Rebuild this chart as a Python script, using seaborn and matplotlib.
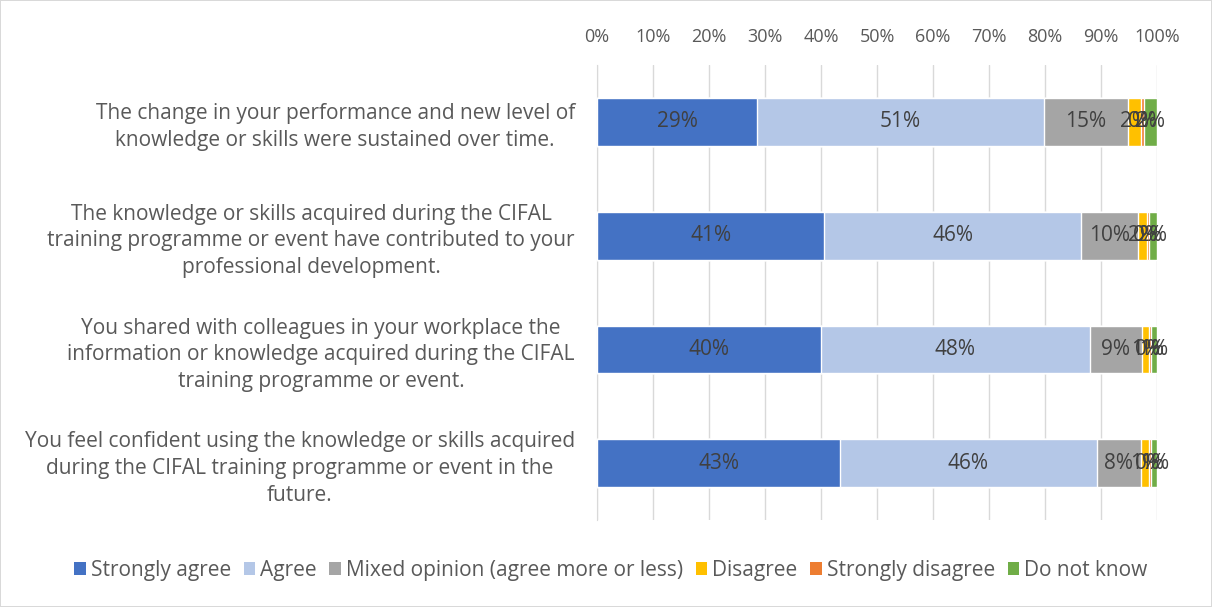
import matplotlib
matplotlib.use('Agg')
import matplotlib.pyplot as plt
import seaborn as sns
import numpy as np
import pandas as pd
from matplotlib.patches import Patch

statements = [
    'The change in your performance and new level of\nknowledge or skills were sustained over time.',
    'The knowledge or skills acquired during the CIFAL\ntraining programme or event have contributed to your\nprofessional development.',
    'You shared with colleagues in your workplace the\ninformation or knowledge acquired during the CIFAL\ntraining programme or event.',
    'You feel confident using the knowledge or skills acquired\nduring the CIFAL training programme or event in the\nfuture.',
]
responses = ['Strongly agree', 'Agree', 'Mixed opinion (agree more or less)',
             'Disagree', 'Strongly disagree', 'Do not know']
strongly_agree = [28.6, 40.6, 40.0, 43.4]
agree = [51.2, 45.8, 48.0, 45.8]
mixed = [15.0, 10.2, 9.3, 8.0]
disagree = [2.4, 1.6, 1.2, 1.3]
strongly_disagree = [0.4, 0.3, 0.4, 0.5]
do_not_know = [2.4, 1.5, 1.1, 1.0]
colors = ['#4472C4', '#B4C7E7', '#A5A5A5', '#FFC000', '#ED7D31', '#70AD47']

sns.set_style('white')
plt.rcParams['font.family'] = ['Open Sans', 'DejaVu Sans']

vals = np.array([strongly_agree, agree, mixed, disagree, strongly_disagree, do_not_know])
cum = np.cumsum(vals, axis=0)

fig = plt.figure(figsize=(12.12, 6.07), dpi=100, linewidth=1.2, edgecolor='#d9d9d9')
ax = fig.add_axes([0.4926, 0.143, 0.462, 0.750])

# stack by drawing cumulative totals from the longest down
for i in range(len(responses) - 1, -1, -1):
    df = pd.DataFrame({'statement': statements, 'value': cum[i]})
    sns.barplot(data=df, x='value', y='statement', orient='h', color=colors[i],
                saturation=1, width=0.42, ax=ax, zorder=3)

for i in range(len(responses)):
    for j in range(len(statements)):
        center = cum[i][j] - vals[i][j] / 2
        ax.text(center, j, f'{vals[i][j]:.0f}%', ha='center', va='center',
                fontsize=15, color='#404040', zorder=5)

ax.set_xlim(0, 100)
ax.set_ylim(3.5, -0.5)
ax.set_xticks(np.arange(0, 101, 10))
ax.set_xticklabels([f'{t}%' for t in range(0, 101, 10)])
ax.xaxis.tick_top()
ax.tick_params(axis='x', length=0, pad=14, labelsize=13, labelcolor='#595959')
ax.tick_params(axis='y', length=0, pad=16, labelsize=15, labelcolor='#595959')
for lab in ax.get_yticklabels():
    lab.set_multialignment('center')
    lab.set_linespacing(1.35)
ax.set_xlabel('')
ax.set_ylabel('')
ax.grid(axis='x', color='#d9d9d9', linewidth=1, zorder=0)
ax.set_axisbelow(True)
for s in ['top', 'right', 'bottom']:
    ax.spines[s].set_visible(False)
ax.spines['left'].set_color('#d9d9d9')

handles = [Patch(facecolor=c, edgecolor='none') for c in colors]
fig.legend(handles, responses, loc='center', bbox_to_anchor=(0.504, 0.06), ncol=6,
           frameon=False, fontsize=15, handlelength=0.55, handleheight=0.55,
           handletextpad=0.25, columnspacing=0.6, labelcolor='#595959')

fig.savefig('out.png', dpi=100, edgecolor=fig.get_edgecolor())
